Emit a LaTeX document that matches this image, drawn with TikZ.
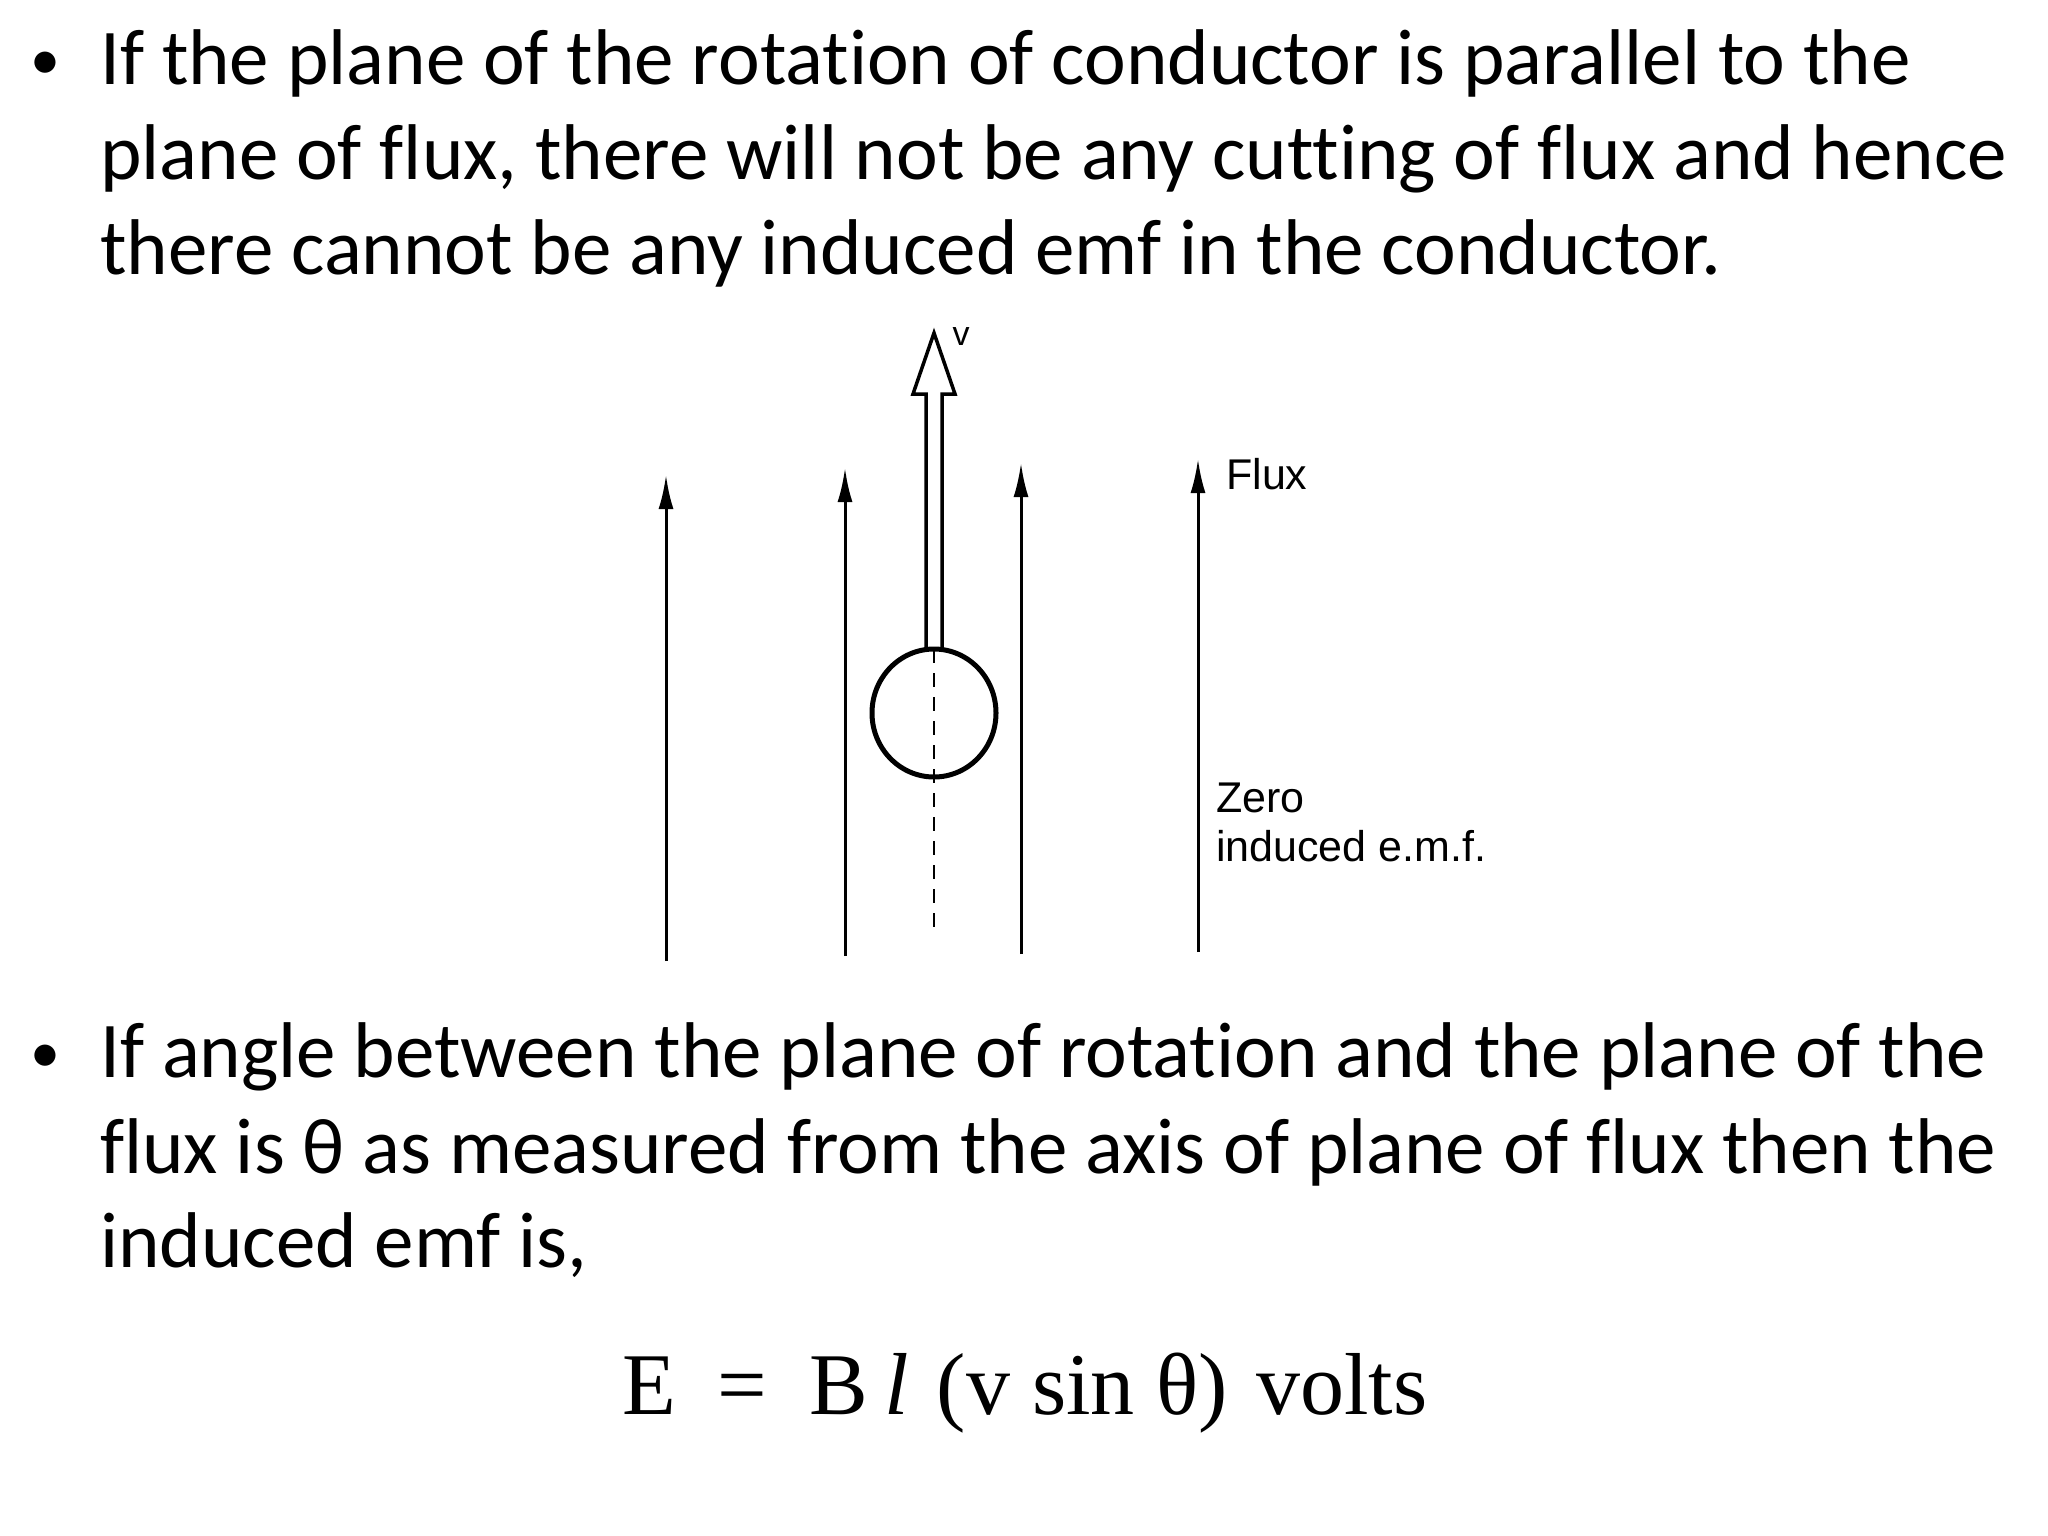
\documentclass[tikz,border=0pt]{standalone}
\usepackage{fontspec}
\setmainfont{Carlito}[Ligatures=NoCommon]
\newfontfamily\arialf{Liberation Sans}
\newfontfamily\timesf{Liberation Serif}
\usetikzlibrary{arrows.meta}
\begin{document}
\begin{tikzpicture}[x=1pt,y=-1pt,
  txt/.style={anchor=base west,inner sep=0pt,font=\fontsize{79}{95}\selectfont},
  lbl/.style={anchor=west,inner sep=0pt,font=\arialf\fontsize{43}{52}\selectfont},
  flux/.style={line width=3pt,-{Latex[length=34pt,width=15pt]}}]
\useasboundingbox (0,0) rectangle (2048,1536);
\node[txt,font=\fontsize{60}{70}\selectfont] (b1) at (30,80) {\textbullet};
\node[txt] (l1) at (100,85) {If the plane of the rotation of conductor is parallel to the};
\node[txt] (l2) at (100,179) {plane of flux, there will not be any cutting of flux and hence};
\node[txt] (l3) at (100,274) {there cannot be any induced emf in the conductor.};
\node[txt,font=\fontsize{60}{70}\selectfont] (b2) at (30,1072) {\textbullet};
\node[txt] (m1) at (100,1077) {If angle between the plane of rotation and the plane of the};
\node[txt] (m2) at (100,1173) {flux is θ as measured from the axis of plane of flux then the};
\node[txt] (m3) at (100,1267) {induced emf is,};
\node[anchor=base west,inner sep=0pt,font=\timesf\fontsize{88}{90}\selectfont] (eq) at (622,1414) {E\hspace{42pt}=\hspace{42pt}B\hspace{16pt}\textit{l}\hspace{6pt} (v sin θ)\hspace{6pt} volts};
% flux lines
\coordinate (a1b) at (666,961); \coordinate (a1t) at (666,475);
\coordinate (a2b) at (845,956); \coordinate (a2t) at (845,468);
\coordinate (a3b) at (1021,954); \coordinate (a3t) at (1021,463);
\coordinate (a4b) at (1198,952); \coordinate (a4t) at (1198,459);
\draw[flux] (a1b) -- (a1t);
\draw[flux] (a2b) -- (a2t);
\draw[flux] (a3b) -- (a3t);
\draw[flux] (a4b) -- (a4t);
\node[lbl] (fx) at (1226,474) {Flux};
\node[lbl] (z1) at (1216,798) {Zero};
\node[lbl] (z2) at (1216,846) {induced e.m.f.};
% conductor
\draw[line width=5pt] (934,713) ellipse (62 and 64);
\coordinate (ct) at (934,649); \coordinate (cb) at (934,929);
\draw[line width=2.5pt,dash pattern=on 14pt off 10pt] (ct) -- (cb);
% hollow velocity arrow
\draw[line width=3.5pt,line join=miter] (926,649) -- (926,394) -- (913,394) -- (934,333) -- (955,394) -- (942,394) -- (942,649);
\node[inner sep=0pt,font=\arialf\fontsize{34}{40}\selectfont] (v) at (961,337) {v};
\end{tikzpicture}
\end{document}
